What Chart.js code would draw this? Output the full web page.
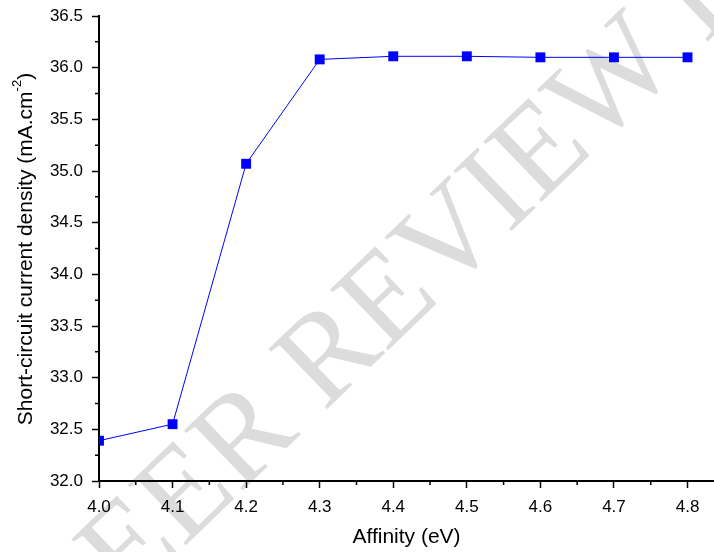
<!DOCTYPE html>
<html>
<head>
<meta charset="utf-8">
<script src="https://cdn.jsdelivr.net/npm/chart.js@4.4.0/dist/chart.umd.min.js"></script>
<style>
  html, body { margin: 0; padding: 0; background: #ffffff; }
  #wrap { width: 714px; height: 552px; }
</style>
</head>
<body>
<div id="wrap"><canvas id="grafico"></canvas></div>
<script>
// dados
const affinity = [4.0, 4.1, 4.2, 4.3, 4.4, 4.5, 4.6, 4.7, 4.8];
const jsc = [32.39, 32.55, 35.07, 36.08, 36.11, 36.11, 36.10, 36.10, 36.10];

const xTicks = [4.0, 4.1, 4.2, 4.3, 4.4, 4.5, 4.6, 4.7, 4.8];
const xMinor = [4.05, 4.15, 4.25, 4.35, 4.45, 4.55, 4.65, 4.75];
const yTicks = [32.0, 32.5, 33.0, 33.5, 34.0, 34.5, 35.0, 35.5, 36.0, 36.5];
const yMinor = [32.25, 32.75, 33.25, 33.75, 34.25, 34.75, 35.25, 35.75, 36.25];

const fonte = '"Liberation Sans", Arial, sans-serif';

// marca d'água ao fundo
const watermark = {
    id: 'watermark',
    beforeDraw(chart) {
        const ctx = chart.ctx;
        ctx.save();
        ctx.translate(324, 412);
        ctx.rotate(-44 * Math.PI / 180);
        ctx.fillStyle = '#dcdcdc';
        ctx.font = '128px "Liberation Serif", serif';
        ctx.textBaseline = 'alphabetic';
        const w = ctx.measureText('PEER ').width;
        ctx.fillText('PEER REVIEW LI', -w, 0);
        ctx.restore();
    }
};

// ticks menores e título do eixo y
const extras = {
    id: 'extras',
    afterDraw(chart) {
        const ctx = chart.ctx;
        const x = chart.scales.x;
        const y = chart.scales.y;
        const area = chart.chartArea;
        ctx.save();
        ctx.strokeStyle = '#000';
        ctx.lineWidth = 1.5;
        ctx.beginPath();
        xMinor.forEach(v => {
            const px = x.getPixelForValue(v);
            ctx.moveTo(px, area.bottom);
            ctx.lineTo(px, area.bottom + 4);
        });
        yMinor.forEach(v => {
            const py = y.getPixelForValue(v);
            ctx.moveTo(area.left, py);
            ctx.lineTo(area.left - 4, py);
        });
        ctx.stroke();

        // título y com expoente
        const main = 'Short-circuit current density (mA.cm';
        const sup = '-2';
        const end = ')';
        ctx.fillStyle = '#000';
        ctx.font = '21px ' + fonte;
        const w1 = ctx.measureText(main).width;
        const w3 = ctx.measureText(end).width;
        ctx.font = '13px ' + fonte;
        const w2 = ctx.measureText(sup).width;
        const total = w1 + w2 + w3;
        ctx.translate(26, 249);
        ctx.rotate(-Math.PI / 2);
        ctx.textBaseline = 'middle';
        ctx.textAlign = 'left';
        let cx = -total / 2;
        ctx.font = '21px ' + fonte;
        ctx.fillText(main, cx, 0);
        cx += w1;
        ctx.font = '13px ' + fonte;
        ctx.fillText(sup, cx, -9);
        cx += w2;
        ctx.font = '21px ' + fonte;
        ctx.fillText(end, cx, 0);
        ctx.restore();
    }
};

let grafico;

document.addEventListener('DOMContentLoaded', function () {
    const ctx = document.getElementById('grafico').getContext('2d');

    grafico = new Chart(ctx, {
        type: 'line',
        data: {
            datasets: [{
                label: 'Jsc',
                data: affinity.map((a, i) => ({ x: a, y: jsc[i] })),
                borderColor: '#0000ff',
                borderWidth: 1,
                backgroundColor: '#0000ff',
                pointStyle: 'rect',
                pointRadius: 7,
                pointBorderWidth: 0,
                pointBackgroundColor: '#0000ff',
                tension: 0,
            }],
        },
        options: {
            responsive: true,
            maintainAspectRatio: false,
            animation: false,
            layout: { autoPadding: false, padding: { top: 16, right: 0, left: 0, bottom: 0 } },
            plugins: {
                legend: { display: false },
                tooltip: { enabled: false },
            },
            scales: {
                x: {
                    type: 'linear',
                    min: 4.0,
                    max: 4.836,
                    afterBuildTicks: s => { s.ticks = xTicks.map(v => ({ value: v })); },
                    afterFit: s => { s.height = 71; s.paddingLeft = 0; s.paddingRight = 0; },
                    ticks: {
                        callback: v => v.toFixed(1),
                        color: '#000',
                        font: { family: fonte, size: 17 },
                        padding: 9,
                        maxRotation: 0,
                        autoSkip: false,
                    },
                    grid: {
                        drawOnChartArea: false,
                        drawTicks: true,
                        tickLength: 7,
                        tickColor: '#000',
                        tickWidth: 1.5,
                    },
                    border: { display: true, color: '#000', width: 2 },
                    title: {
                        display: true,
                        text: 'Affinity (eV)',
                        color: '#000',
                        font: { family: fonte, size: 21 },
                        padding: { top: 0, bottom: 2 },
                    },
                },
                y: {
                    type: 'linear',
                    min: 32.0,
                    max: 36.5,
                    afterBuildTicks: s => { s.ticks = yTicks.map(v => ({ value: v })); },
                    afterFit: s => { s.width = 99; s.paddingTop = 0; s.paddingBottom = 0; },
                    ticks: {
                        callback: v => v.toFixed(1),
                        color: '#000',
                        font: { family: fonte, size: 17 },
                        padding: 9,
                        autoSkip: false,
                    },
                    grid: {
                        drawOnChartArea: false,
                        drawTicks: true,
                        tickLength: 7,
                        tickColor: '#000',
                        tickWidth: 1.5,
                    },
                    border: { display: true, color: '#000', width: 2 },
                },
            },
        },
        plugins: [watermark, extras],
    });
});
</script>
</body>
</html>
